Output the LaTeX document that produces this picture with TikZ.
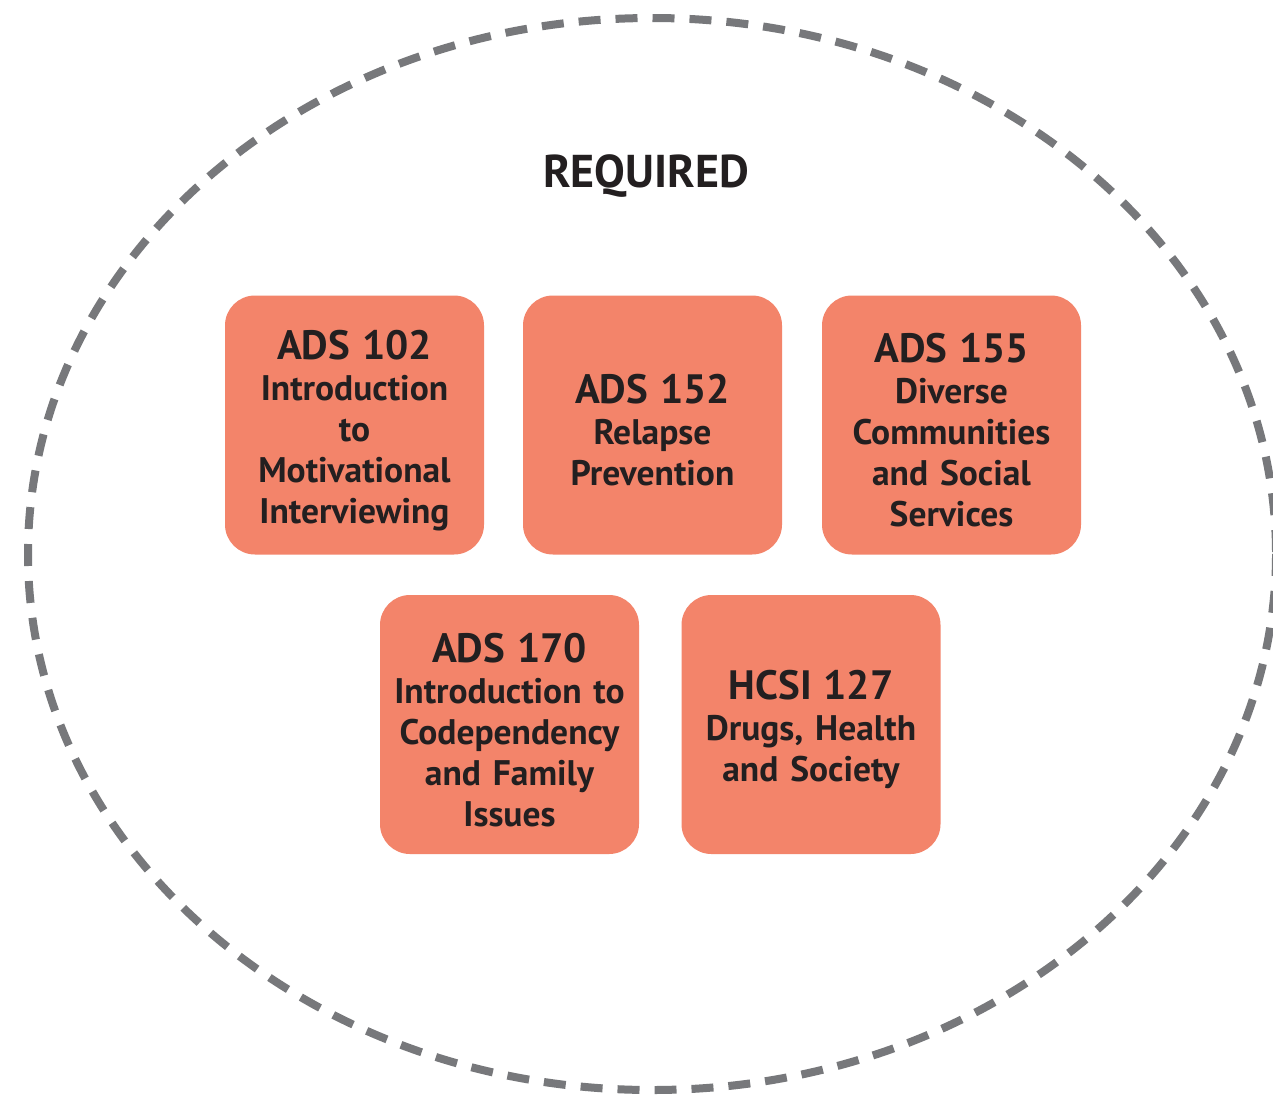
\documentclass[tikz,border=0pt]{standalone}
\usepackage{fontspec}
\setmainfont{PT Sans}
\usetikzlibrary{backgrounds,calc}
\definecolor{boxfill}{RGB}{243,132,106}
\definecolor{ringgray}{RGB}{119,120,123}
\definecolor{inkdark}{RGB}{35,31,32}
\tikzset{
  course/.style={rectangle, rounded corners=30pt, fill=boxfill,
    minimum width=259pt, minimum height=259pt, text width=255pt,
    align=center, text=inkdark, inner sep=0pt,
    font=\fontsize{35.5}{41}\selectfont\bfseries},
  ring/.style={draw=ringgray, line width=8pt, dash pattern=on 22pt off 15pt},
}
\newcommand{\ctitle}[1]{{\fontsize{41}{41}\selectfont\rule{0pt}{40pt}#1}}
\begin{document}
\begin{tikzpicture}[x=1pt,y=-1pt]
\useasboundingbox (0,0) rectangle (1273,1095);
\fill[white] (0,0) rectangle (1273,1095);
\draw[ring] (652,554) ellipse [x radius=624, y radius=536];
\node[text=inkdark, font=\fontsize{46}{50}\selectfont\bfseries] (title) at (646,176) {REQUIRED};
\node[course] (a) at (354.5,425) {\ctitle{ADS 102}\\Introduction\\to\\Motivational\\Interviewing};
\node[course] (b) at (652.5,425) {\ctitle{ADS 152}\\Relapse\\Prevention};
\node[course] (c) at (951.5,425) {\ctitle{ADS 155}\\Diverse\\Communities\\and Social\\Services};
\node[course] (d) at (509.5,724.5) {\ctitle{ADS 170}\\Introduction to\\Codependency\\and Family\\Issues};
\node[course] (e) at (811,724.5) {\ctitle{HCSI 127}\\Drugs, Health\\and Society};
\begin{scope}[on background layer]
\foreach \n in {a,b,c,d,e}{
  \foreach \i in {0,...,9}{
    \fill[black, opacity=0.045, rounded corners=30pt]
      ($(\n.north west)+(6-\i*0.9,6-\i*0.9)$) rectangle ($(\n.south east)+(3+\i*1.4,5+\i*1.4)$);
  }
}
\end{scope}
\end{tikzpicture}
\end{document}
